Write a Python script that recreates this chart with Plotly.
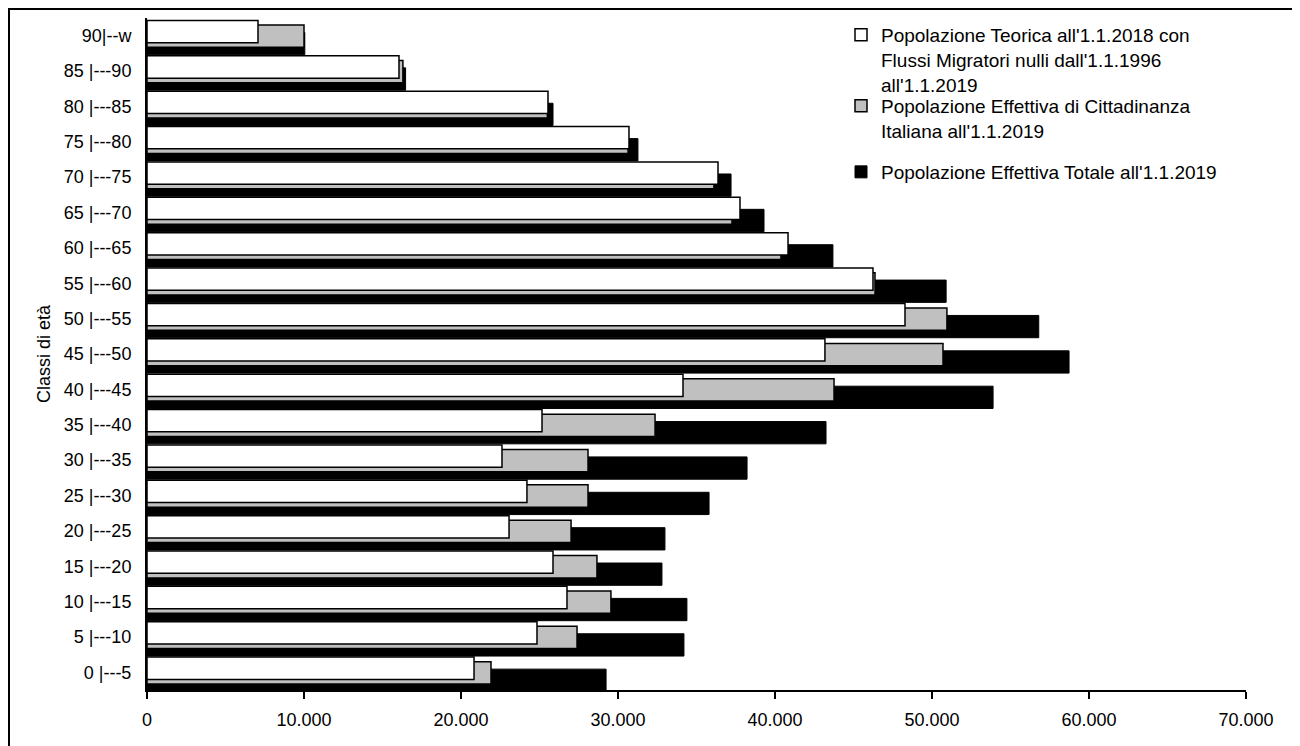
import plotly.graph_objects as go

categories = ["0 |---5", "5 |---10", "10 |---15", "15 |---20", "20 |---25",
              "25 |---30", "30 |---35", "35 |---40", "40 |---45", "45 |---50",
              "50 |---55", "55 |---60", "60 |---65", "65 |---70", "70 |---75",
              "75 |---80", "80 |---85", "85 |---90", "90|--w"]

teorica = [20830, 24840, 26750, 25860, 23060, 24200, 22610, 25160, 34140, 43180,
           48280, 46240, 40830, 37770, 36370, 30700, 25540, 16050, 7070]
italiana = [21910, 27390, 29550, 28660, 27010, 28090, 28090, 32360, 43760, 50700,
            50950, 46370, 40380, 37260, 36110, 30640, 25500, 16300, 10000]
totale = [29240, 34200, 34390, 32800, 32990, 35800, 38220, 43250, 53890, 58730,
          56800, 50900, 43690, 39300, 37200, 31270, 25860, 16470, 10050]

names = ["Popolazione Teorica all'1.1.2018 con<br>Flussi Migratori nulli dall'1.1.1996<br>all'1.1.2019",
         "Popolazione Effettiva di Cittadinanza<br>Italiana all'1.1.2019",
         "Popolazione Effettiva Totale all'1.1.2019"]

FONT = "Liberation Sans, Arial, sans-serif"

fig = go.Figure()
fig.add_trace(go.Bar(y=categories, x=totale, orientation="h", name=names[2],
                     marker=dict(color="#000000", line=dict(color="#000000", width=1)),
                     width=0.63, offset=-0.54, legend="legend3"))
fig.add_trace(go.Bar(y=categories, x=italiana, orientation="h", name=names[1],
                     marker=dict(color="#C0C0C0", line=dict(color="#000000", width=1.5)),
                     width=0.63, offset=-0.33, legend="legend2"))
fig.add_trace(go.Bar(y=categories, x=teorica, orientation="h", name=names[0],
                     marker=dict(color="#FFFFFF", line=dict(color="#000000", width=1.5)),
                     width=0.63, offset=-0.20, legend="legend"))

W, H = 1300, 746
S = 8  # page offset of the figure inside the browser page
# plot area in page pixels (as measured on the reference)
L, R, T, B = 147 - S, 1246 - S, 18 - S, 690 - S
pw, ph = R - L, B - T

def px(x):
    return (x - S - L) / pw

def py(y):
    return (B - (y - S)) / ph

leg_common = dict(xanchor="left", yanchor="top", bgcolor="rgba(0,0,0,0)",
                  font=dict(family=FONT, size=19, color="#000000"),
                  valign="top", borderwidth=0)

fig.update_layout(
    width=W, height=H,
    margin=dict(l=L, r=W - R, t=T, b=H - B, autoexpand=False),
    barmode="overlay",
    separators=",.",
    showlegend=True,
    paper_bgcolor="white", plot_bgcolor="white",
    font=dict(family=FONT, size=18, color="#000000"),
    legend=dict(x=px(841), y=py(16), **leg_common),
    legend2=dict(x=px(841), y=py(87), **leg_common),
    legend3=dict(x=px(841), y=py(153), **leg_common),
    xaxis=dict(range=[0, 70000], dtick=10000, tick0=0, tickformat=",d",
               showline=True, linecolor="#000000", linewidth=2,
               ticks="outside", ticklen=7, tickwidth=2, tickcolor="#000000",
               showgrid=False, zeroline=False, automargin=False,
               ticklabelstandoff=5, tickfont=dict(size=18)),
    yaxis=dict(type="category", categoryorder="array", categoryarray=categories,
               range=[-0.5, len(categories) - 0.5],
               showline=True, linecolor="#000000", linewidth=2,
               ticks="", showgrid=False, zeroline=False, automargin=False,
               ticklabelstandoff=10, tickfont=dict(size=18),
               title=dict(text="Classi di età", font=dict(size=18), standoff=8)),
    shapes=[dict(type="rect", xref="paper", yref="paper",
                 x0=px(9), x1=px(1297), y0=py(760), y1=py(9),
                 line=dict(color="#000000", width=2), fillcolor="rgba(0,0,0,0)",
                 layer="below")],
)

fig.write_html("out.html")
